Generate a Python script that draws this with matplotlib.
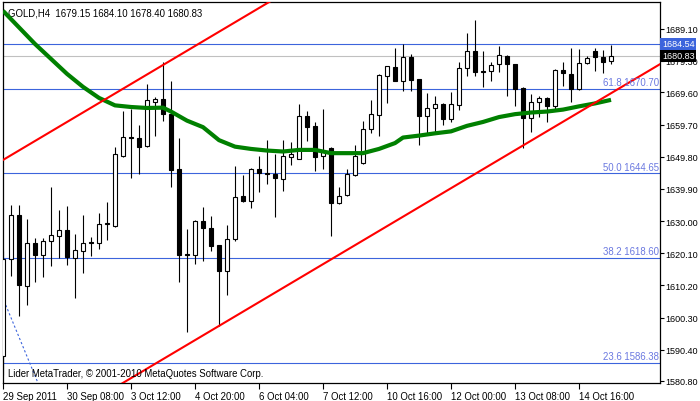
import numpy as np
import matplotlib.pyplot as plt
import matplotlib.transforms as mtransforms

plt.rcParams['font.family'] = ['Liberation Sans', 'DejaVu Sans']

# GOLD H4 candles
opens = [1588.6, 1618.3, 1631.9, 1610.1, 1623.3, 1619.7, 1624.0, 1625.3, 1627.3, 1618.7,
         1620.9, 1623.6, 1623.2, 1629.0, 1628.6, 1650.1, 1655.8, 1655.5, 1653.0, 1666.7,
         1667.6, 1663.0, 1646.0, 1619.9, 1619.7, 1629.9, 1627.8, 1622.6, 1614.5, 1624.5,
         1637.8, 1636.3, 1646.0, 1644.7, 1644.5, 1642.9, 1649.6, 1649.1, 1662.4, 1659.2,
         1650.1, 1652.5, 1635.5, 1638.1, 1644.3, 1647.8, 1658.3, 1662.7, 1674.7, 1677.5,
         1673.2, 1680.4, 1673.7, 1662.4, 1664.7, 1666.0, 1661.3, 1665.8, 1677.0, 1682.2,
         1676.2, 1676.1, 1678.3, 1680.9, 1678.3, 1670.9, 1661.6, 1666.5, 1667.8, 1665.3,
         1676.5, 1675.3, 1670.6, 1678.5, 1682.2, 1680.4, 1679.15]
highs = [1620.9, 1634.9, 1634.9, 1630.6, 1624.7, 1624.9, 1640.6, 1633.4, 1634.7, 1626.0,
         1631.9, 1625.0, 1632.4, 1636.0, 1652.9, 1664.0, 1664.5, 1659.6, 1672.2, 1668.3,
         1678.9, 1673.2, 1655.6, 1627.6, 1630.3, 1634.2, 1631.6, 1622.6, 1628.9, 1647.0,
         1644.2, 1646.3, 1650.1, 1654.9, 1650.6, 1655.0, 1654.2, 1666.0, 1663.8, 1660.4,
         1664.5, 1652.7, 1640.4, 1646.0, 1653.4, 1660.7, 1667.3, 1675.2, 1677.8, 1683.3,
         1684.5, 1681.4, 1673.8, 1669.3, 1668.6, 1666.3, 1669.8, 1678.9, 1687.9, 1692.0,
         1682.2, 1678.9, 1684.0, 1681.1, 1678.3, 1671.2, 1669.1, 1668.6, 1668.1, 1676.8,
         1679.0, 1683.3, 1682.9, 1680.9, 1683.3, 1682.6, 1684.10]
lows = [1582.6, 1613.2, 1600.9, 1604.2, 1611.3, 1612.9, 1616.3, 1618.6, 1616.6, 1606.3,
        1613.9, 1619.3, 1621.4, 1624.2, 1628.1, 1649.6, 1643.2, 1644.5, 1652.8, 1656.1,
        1660.9, 1640.4, 1611.2, 1595.8, 1616.8, 1617.8, 1620.9, 1597.8, 1607.3, 1624.0,
        1636.0, 1634.0, 1639.0, 1641.4, 1631.2, 1639.3, 1647.3, 1649.0, 1654.7, 1645.5,
        1646.0, 1625.5, 1635.3, 1637.8, 1644.0, 1647.5, 1657.0, 1656.1, 1666.3, 1673.0,
        1670.1, 1670.1, 1653.5, 1656.8, 1657.0, 1659.6, 1660.5, 1664.3, 1674.7, 1674.7,
        1671.2, 1673.2, 1675.8, 1668.6, 1665.3, 1652.4, 1657.3, 1661.9, 1660.4, 1664.5,
        1671.5, 1666.5, 1670.4, 1678.4, 1676.3, 1675.5, 1678.40]
closes = [1618.3, 1631.9, 1610.4, 1623.2, 1619.7, 1623.8, 1625.7, 1627.3, 1619.0, 1621.1,
          1623.3, 1623.2, 1629.1, 1629.3, 1650.6, 1655.8, 1655.5, 1652.7, 1667.3, 1667.6,
          1663.0, 1645.8, 1619.6, 1619.6, 1629.9, 1627.8, 1622.4, 1614.5, 1624.5, 1637.5,
          1636.3, 1646.0, 1644.7, 1644.4, 1643.2, 1649.9, 1650.6, 1662.4, 1658.9, 1649.8,
          1651.5, 1635.5, 1637.6, 1644.5, 1650.1, 1658.3, 1663.0, 1674.9, 1677.6, 1673.2,
          1680.4, 1673.5, 1662.4, 1664.7, 1666.0, 1661.3, 1666.0, 1677.1, 1682.2, 1676.0,
          1675.9, 1678.0, 1681.1, 1678.3, 1670.6, 1661.6, 1666.5, 1667.8, 1665.3, 1676.5,
          1675.5, 1670.6, 1678.5, 1680.1, 1680.4, 1679.0, 1680.83]

# moving average (green), sampled at bar numbers
ma_bar = [0, 4, 8, 10, 12, 14, 16, 18, 20, 21, 23, 25, 27, 29, 31, 33, 35, 37, 39,
          41, 43, 45, 47, 49, 50, 52, 54, 56, 58, 60, 62, 64, 66, 68, 70, 72, 74, 76]
ma_price = [1694.7, 1684.5, 1675.3, 1671.3, 1667.9, 1665.6, 1665.1, 1664.8, 1664.9, 1663.7,
            1660.9, 1658.9, 1654.9, 1652.9, 1652.2, 1651.7, 1651.4, 1651.9, 1651.9,
            1650.9, 1650.9, 1650.9, 1652.2, 1654.0, 1655.7, 1656.3, 1657.0, 1657.6, 1659.3,
            1660.5, 1662.0, 1662.9, 1663.4, 1663.7, 1664.3, 1665.3, 1666.2, 1667.3]

# channel (two parallel red trendlines): price at bar 0 and slope per bar
upper_start = 1648.8
lower_start = 1558.3
channel_slope = 1.461

# fibonacci levels and other horizontal lines
fib_levels = ['61.8', '50.0', '38.2', '23.6']
fib_prices = [1670.70, 1644.65, 1618.60, 1586.38]
hline_price = 1684.54
bid_price = 1680.83
fib_trend = [(-1, 1612.2), (6, 1570.5)]

ytick_values = [1689.10, 1679.30, 1669.60, 1659.70, 1649.80, 1639.90, 1630.00,
                1620.10, 1610.20, 1600.30, 1590.40, 1580.80]
xtick_bars = [0, 8, 16, 24, 32, 40, 48, 56, 64, 72]
xtick_labels = ['29 Sep 2011', '30 Sep 08:00', '3 Oct 12:00', '4 Oct 20:00', '6 Oct 04:00',
                '7 Oct 12:00', '10 Oct 16:00', '12 Oct 00:00', '13 Oct 08:00', '14 Oct 16:00']

title = 'GOLD,H4  1679.15 1684.10 1678.40 1680.83'
credit = 'Lider MetaTrader, \u00a9 2001-2010 MetaQuotes Software Corp.'

fs = 6.9
fs_y = 6.5
fib_line = '#3c64dc'
fib_text = '#6a78e0'

fig = plt.figure(figsize=(7.0, 4.02), dpi=100)
ax = fig.add_axes([2.5/700, 18/402, 657.5/700, 381.5/402])
ax.set_xlim(-0.06, 82.12)
ax.set_ylim(1580.18, 1697.56)

n = len(opens)
bars = np.arange(n)
o = np.array(opens); c = np.array(closes)
h = np.array(highs); l = np.array(lows)

# horizontal lines
for lvl, p in zip(fib_levels, fib_prices):
    ax.axhline(p, color=fib_line, lw=0.8, zorder=1)
    ax.text(82.0, p + 0.6, lvl + ' ' + '%.2f' % p, color=fib_text, fontsize=fs,
            ha='right', va='bottom', zorder=5)
ax.axhline(hline_price, color=fib_line, lw=0.8, zorder=1)
ax.axhline(bid_price, color='#c0c0c0', lw=0.8, zorder=1)
ax.plot([q[0] for q in fib_trend], [q[1] for q in fib_trend], color=fib_line,
        lw=0.8, ls=(0, (2, 2)), zorder=1)

# candles
ax.vlines(bars, l, h, color='black', lw=0.8, zorder=2)
up = c >= o
ax.bar(bars[up], (c - o)[up], 0.56, bottom=o[up], facecolor='white',
       edgecolor='black', lw=0.8, zorder=3)
ax.bar(bars[~up], (o - c)[~up], 0.56, bottom=c[~up], facecolor='black',
       edgecolor='black', lw=0.8, zorder=3)

# moving average
ax.plot(ma_bar, ma_price, color='#008000', lw=3.0, solid_capstyle='butt', zorder=4)

# channel
xx = np.array([-1, 84])
ax.plot(xx, upper_start + channel_slope * xx, color='red', lw=1.5, zorder=4)
ax.plot(xx, lower_start + channel_slope * xx, color='red', lw=1.5, zorder=4)

ax.text(0.008, 0.985, title, transform=ax.transAxes, fontsize=fs, va='top', ha='left')
ax.text(0.008, 0.012, credit, transform=ax.transAxes, fontsize=fs, va='bottom', ha='left',
        zorder=6)

# axes
ax.yaxis.tick_right()
ax.set_yticks(ytick_values, ['%.2f' % v for v in ytick_values])
ax.set_xticks(xtick_bars, xtick_labels)
for lab in ax.get_xticklabels():
    lab.set_ha('left')
ax.tick_params(axis='x', labelsize=fs, length=4, width=0.8, pad=1.5, direction='out')
ax.tick_params(axis='y', labelsize=fs_y, length=3, width=0.8, pad=1, direction='out')
for sp in ax.spines.values():
    sp.set_linewidth(0.9)

# price boxes on the right scale
trans = mtransforms.blended_transform_factory(ax.transAxes, ax.transData)
ax.text(1.003, hline_price, '%.2f' % hline_price, transform=trans, fontsize=fs_y,
        color='white', va='center', ha='left', clip_on=False, zorder=10,
        bbox=dict(boxstyle='square,pad=0.2', fc=fib_line, ec='none'))
ax.text(1.003, bid_price, '%.2f' % bid_price, transform=trans, fontsize=fs_y,
        color='white', va='center', ha='left', clip_on=False, zorder=10,
        bbox=dict(boxstyle='square,pad=0.2', fc='black', ec='none'))

fig.savefig('out.png', dpi=100, facecolor='white')
